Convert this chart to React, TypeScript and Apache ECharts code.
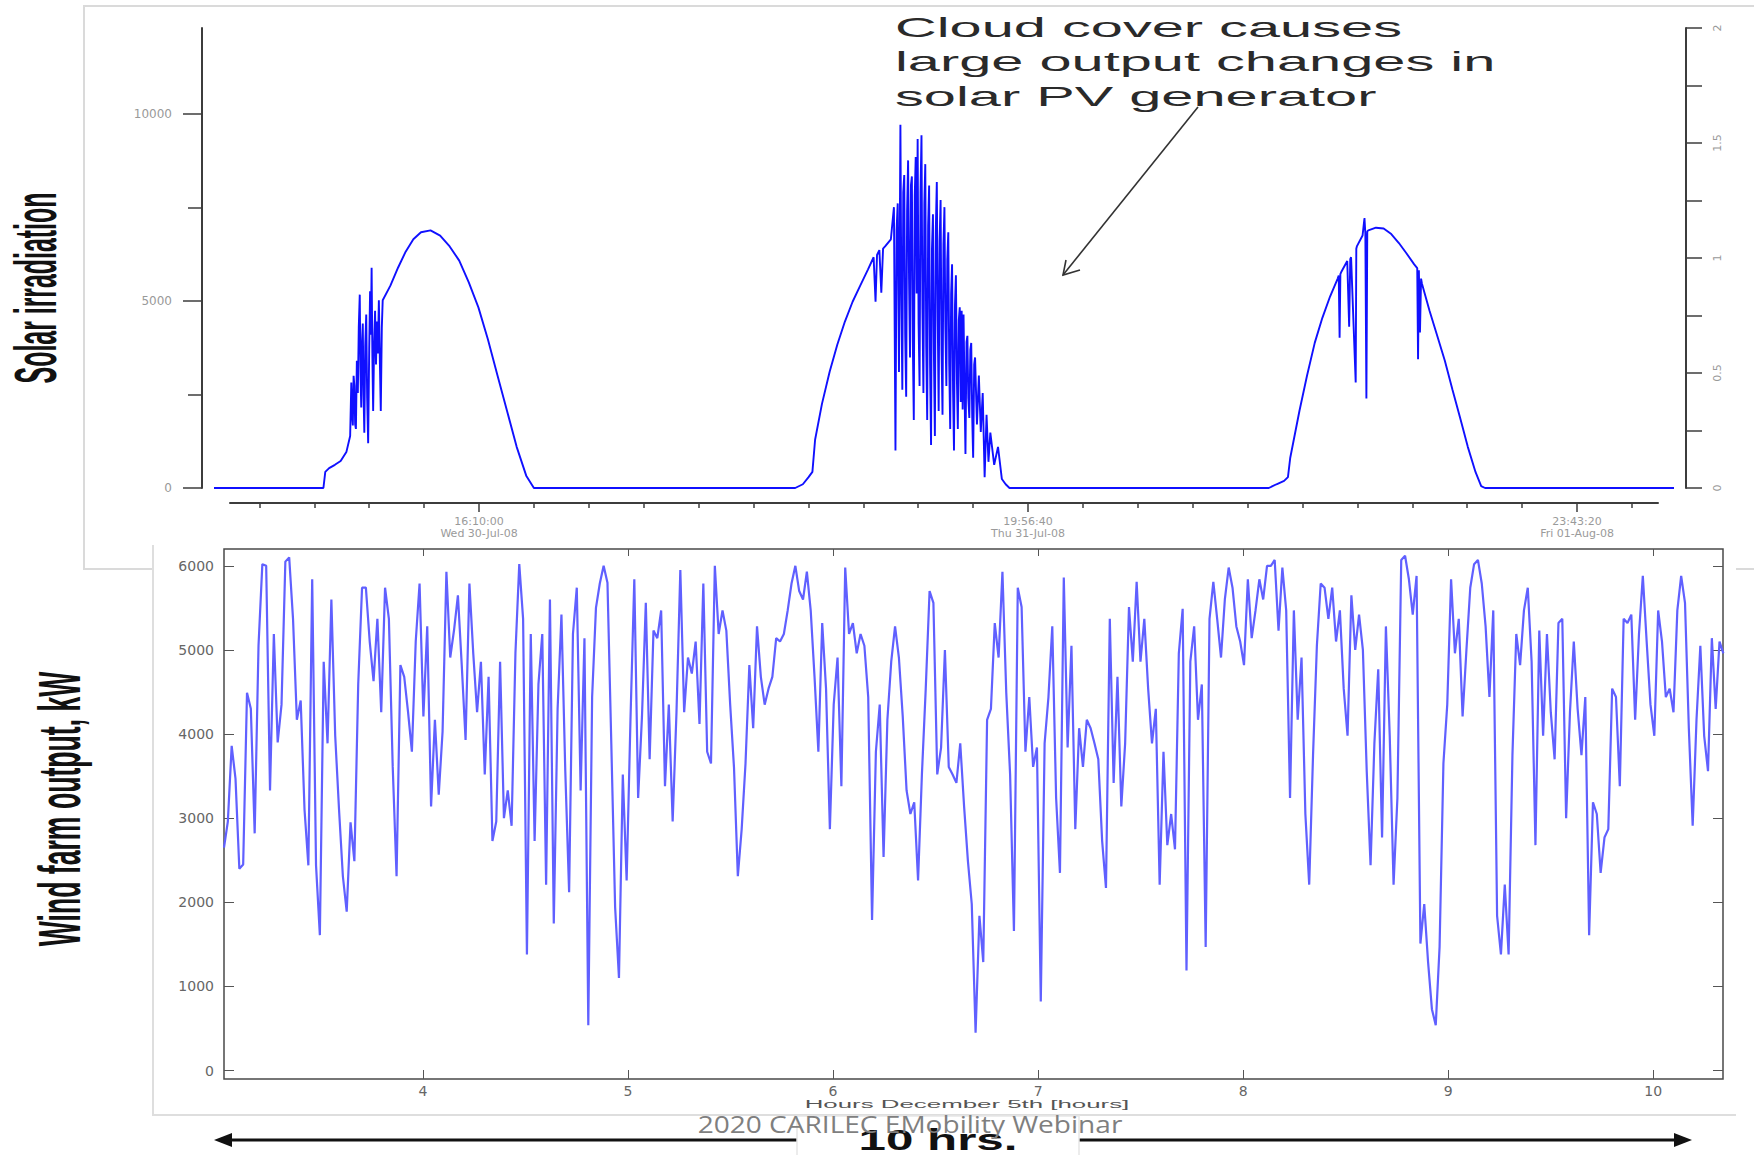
import React, { useEffect, useRef } from 'react';
import * as echarts from 'echarts';

// ================= TOP PANEL : solar irradiation =================
// x = kiloseconds after 30-Jul-08 16:10:00, y = irradiation
const SOLAR_X_START = -48.27;
const SOLAR_X_END = 217.67;
const SOLAR_Y_MAX = 12300;

const solarDay1: [number, number][] = [
  [-28.34, 0], [-28.0, 430], [-27.3, 530], [-26.25, 620], [-25.2, 720], [-24.16, 960], [-23.47, 1390],
  [-23.26, 2820], [-23.1, 1900], [-22.98, 1670], [-22.84, 3000], [-22.7, 2730], [-22.56, 1700],
  [-22.42, 1580], [-22.25, 3400], [-22.07, 2540], [-21.9, 4300], [-21.72, 5170], [-21.58, 3000],
  [-21.45, 2150], [-21.3, 3900], [-21.17, 4400], [-21.03, 2500], [-20.89, 1480], [-20.72, 3800],
  [-20.54, 4640], [-20.37, 2400], [-20.19, 1200], [-20.0, 3700], [-19.84, 5260], [-19.7, 4100],
  [-19.56, 5890], [-19.42, 3500], [-19.28, 2060], [-19.1, 3900], [-18.93, 4740], [-18.76, 3300],
  [-18.59, 4450], [-18.42, 3600], [-18.24, 5020], [-18.06, 3400], [-17.89, 2060], [-17.7, 4300],
  [-17.54, 5020], [-16.14, 5410], [-14.75, 5890], [-13.36, 6320], [-11.96, 6650], [-10.57, 6840],
  [-8.83, 6890], [-7.08, 6750], [-5.34, 6460], [-3.6, 6080], [-1.86, 5500], [-0.11, 4830], [1.63, 3970],
  [3.37, 3010], [5.11, 2060], [6.86, 1100], [8.6, 330], [10.0, 0],
];

const solarDay2: [number, number][] = [
  [57.59, 0], [58.99, 100], [60.03, 290], [60.73, 430], [61.22, 1290], [62.47, 2250], [63.87, 3110],
  [65.26, 3830], [66.65, 4450], [68.05, 4980], [69.44, 5410], [70.84, 5840], [71.88, 6170], [72.23, 4980],
  [72.5, 6230], [72.93, 6360], [73.28, 5220], [73.6, 6400], [73.97, 6460], [75.02, 6650], [75.58, 7510],
  [75.72, 4200], [75.86, 1000], [76.06, 6900], [76.27, 7610], [76.5, 3100], [76.76, 9710], [76.93, 5200],
  [77.11, 2630], [77.28, 7900], [77.46, 8370], [77.63, 4100], [77.81, 2440], [77.98, 7400], [78.16, 8760],
  [78.33, 5600], [78.51, 3490], [78.68, 8100], [78.85, 8330], [79.02, 3900], [79.2, 1820], [79.37, 7800],
  [79.55, 8850], [79.72, 5200], [79.9, 9330], [80.07, 4400], [80.25, 2730], [80.42, 7900], [80.6, 9430],
  [80.77, 4800], [80.95, 2540], [81.12, 7600], [81.29, 8660], [81.46, 3800], [81.64, 1820], [81.81, 7000],
  [81.99, 8090], [82.16, 3300], [82.34, 1150], [82.51, 6400], [82.69, 7320], [82.86, 3600], [83.04, 1390],
  [83.21, 6900], [83.39, 8180], [83.56, 4500], [83.73, 2060], [83.9, 6600], [84.08, 7700], [84.25, 3700],
  [84.43, 1960], [84.6, 6500], [84.78, 7510], [84.95, 4300], [85.13, 2730], [85.3, 6100], [85.48, 6840],
  [85.65, 3300], [85.83, 1580], [86.0, 5200], [86.17, 5980], [86.35, 2600], [86.52, 1000], [86.7, 4900],
  [86.87, 5690], [87.05, 2900], [87.22, 1580], [87.4, 4500], [87.57, 4830], [87.75, 2300], [87.92, 4740],
  [88.1, 2100], [88.26, 4640], [88.44, 2600], [88.61, 910], [88.8, 3900], [88.96, 4070], [89.13, 2400],
  [89.31, 1870], [89.5, 3700], [89.66, 3880], [89.84, 1900], [90.01, 810], [90.2, 3300], [90.36, 3490],
  [90.7, 1700], [91.05, 3010], [91.4, 1500], [91.75, 2540], [92.1, 290], [92.45, 1960], [92.8, 700],
  [93.14, 1480], [93.84, 620], [94.54, 1100], [95.24, 240], [95.93, 100], [96.63, 0],
];

const solarDay3: [number, number][] = [
  [143.86, 0], [145.26, 100], [146.65, 190], [147.35, 290], [147.77, 810], [149.44, 2060], [150.83, 3010],
  [152.23, 3880], [153.62, 4550], [155.02, 5120], [156.41, 5600], [156.6, 5680], [156.76, 4020],
  [156.9, 5720], [157.11, 5790], [158.15, 6070], [158.5, 4310], [158.7, 6120], [158.85, 6170],
  [159.69, 2820], [159.8, 6400], [159.9, 6460], [160.94, 6750], [161.29, 7220], [161.45, 6800],
  [161.64, 2390], [161.8, 6860], [161.99, 6890], [163.38, 6960], [164.78, 6940], [166.17, 6790],
  [167.56, 6550], [168.96, 6270], [170.35, 5980], [170.9, 5880], [171.05, 3440], [171.2, 5820],
  [171.4, 4160], [171.6, 5600], [171.75, 5470], [173.14, 4740], [174.54, 4070], [175.93, 3400],
  [177.32, 2630], [178.72, 1870], [180.11, 1100], [181.51, 430], [182.55, 50], [183.25, 0],
];

const solarLeftMajorTicks = [0, 5000, 10000];
const solarLeftMinorTicks = [2500, 7500];
const solarRightTicks = [0, 0.25, 0.5, 0.75, 1, 1.25, 1.5, 1.75, 2];
const solarRightLabels = [0, 0.5, 1, 1.5, 2];

const TIME_AXIS_MIN = -45.36;
const TIME_AXIS_MAX = 214.75;
const timeMinorTicks = [-40, -30, -20, -10, 10, 20, 30, 40, 50, 60, 70, 80, 90, 110, 120, 130, 140, 150, 160, 170, 180, 190, 210];
const timeMajorTicks = [0, 100, 200];
const timeMajorLabels = ['16:10:00\nWed 30-Jul-08', '19:56:40\nThu 31-Jul-08', '23:43:20\nFri 01-Aug-08'];

// ================= BOTTOM PANEL : wind farm output =================
const WIND_X_MIN = 3.03;
const WIND_X_MAX = 10.34;
const WIND_START_H = 3.03;
const WIND_STEP_H = 0.0187; // hours between readings
const windOutput = [
  2650, 2960, 3860, 3470, 2400, 2450, 4490, 4300, 2820, 5050,
  6020, 6000, 3330, 5190, 3900, 4350, 6050, 6100, 5370, 4170,
  4400, 3100, 2440, 5840, 2440, 1610, 4860, 3890, 5600, 3980,
  3100, 2310, 1890, 2950, 2490, 4590, 5740, 5740, 5100, 4630,
  5370, 4260, 5740, 5370, 3610, 2310, 4820, 4680, 4260, 3790,
  5100, 5790, 4210, 5280, 3140, 4170, 3280, 4030, 5930, 4910,
  5240, 5650, 4820, 3930, 5790, 4960, 4260, 4860, 3520, 4680,
  2730, 2960, 4860, 3000, 3330, 2910, 4960, 6020, 5370, 1380,
  5190, 2730, 4590, 5190, 2210, 5600, 1750, 4300, 5420, 3560,
  2120, 5190, 5740, 3330, 5140, 540, 4440, 5500, 5790,
  6000, 5800, 3890, 1940, 1100, 3520, 2260, 4170, 5840, 3240,
  4210, 5560, 3700, 5230, 5140, 5470, 3380, 4350, 2960, 4260,
  5950, 4260, 4910, 4720, 5100, 4120, 5790, 3790, 3650, 6000,
  5190, 5470, 5230, 4350, 3600, 2310, 2870, 3650, 4820, 4070,
  5280, 4680, 4350, 4540, 4680, 5140, 5100, 5190, 5470, 5790,
  6000, 5700, 5600, 5930, 5470, 4680, 3790, 5320, 4540, 2870,
  4350, 4910, 3380, 5980, 5190, 5320, 4960, 5190, 5050, 4440,
  1790, 3790, 4350, 2540, 4170, 4860, 5280, 4910, 4210, 3330,
  3050, 3190, 2260, 3520, 4540, 5700, 5560, 3520, 3840, 5000,
  3610, 3520, 3420, 3890, 3140, 2490, 1980, 450, 1840, 1290,
  4170, 4300, 5320, 4910, 5930, 4490, 3520, 1660, 5740, 5510,
  3790, 4440, 3610, 3840, 820, 3890, 4440, 5280, 3240, 2350,
  5860, 3840, 5050, 2870, 4070, 3610, 4170, 4070, 3890, 3700,
  2730, 2170, 5370, 3420, 4680, 3140, 3890, 5510, 4860, 5810,
  4860, 5370, 4540, 3890,
  4300, 2210, 3790, 2680, 3050, 2630, 4960, 5490, 1190, 4860,
  5280, 4170, 4590, 1470, 5370, 5810, 5370, 4910, 5600, 5980,
  5740, 5280, 5100, 4820, 5840, 5140, 5470, 5840, 5600, 6000,
  6000, 6070, 5230, 5980, 5470, 3240, 5470, 4170, 4910, 3050,
  2210, 3750, 5050, 5790, 5740, 5370, 5740, 5100, 5470, 4540,
  3980, 5650, 5000, 5420, 5000, 3560, 2440, 3890, 4770, 2770,
  5280, 3980, 2210, 3240, 6070, 6120, 5840, 5420, 5880, 1510,
  1980, 1290, 730, 540, 1470, 3650, 4350, 5840, 4960, 5370,
  4210, 5000, 5740, 6020, 6070, 5790, 5280, 4440, 5470, 1840,
  1380, 2210, 1380, 3750, 5190, 4820, 5470, 5740, 4860, 2680,
  5230, 3980, 5190, 4260, 3700, 5320, 5370, 3000, 4260, 5100,
  4300, 3750, 4440, 1610, 3190, 3050, 2350, 2770, 2870, 4540,
  4440, 3380, 5370, 5320, 5420, 4170, 5190, 5880, 5100, 4350,
  3980, 5470, 5100, 4440, 4540, 4260, 5470, 5880, 5560, 4070,
  2910, 4170, 5050, 3980, 3560, 5140, 4300, 5100, 4960,
];
const WIND_Y_MIN = -100;
const WIND_Y_MAX = 6200;
const windXTicks = [4, 5, 6, 7, 8, 9, 10];
const windYTicks = [0, 1000, 2000, 3000, 4000, 5000, 6000];

const AXIS_FONT = "'DejaVu Sans', sans-serif";
const SANS = "'Liberation Sans', Arial, sans-serif";
const plain = (v: number) => String(v);

function buildOption(): any {
  const solarSeries = [[SOLAR_X_START, 0], ...solarDay1, ...solarDay2, ...solarDay3, [SOLAR_X_END, 0]];
  const windSeries = windOutput.map((v, i) => [WIND_START_H + i * WIND_STEP_H, v]);
  const axisDark = '#3c3c3c';

  const graphics: any[] = [
    // slide image frames
    { type: 'polyline', z: -10, shape: { points: [[1760, 6], [84, 6], [84, 569], [1760, 569]] }, style: { stroke: '#dadada', lineWidth: 2, fill: null } },
    { type: 'rect', z: -9, shape: { x: 153, y: 545, width: 1583, height: 570 }, style: { fill: '#ffffff' } },
    { type: 'polyline', z: -8, shape: { points: [[153, 545], [153, 1115], [1736, 1115]] }, style: { stroke: '#dedede', lineWidth: 2, fill: null } },
    // annotation
    { type: 'text', x: 895, y: 28, scaleX: 2.1, z: 50, style: { text: 'Cloud cover causes', fontSize: 27.5, fontFamily: SANS, fill: '#2a2a2a', align: 'left', verticalAlign: 'middle' } },
    { type: 'text', x: 895, y: 62, scaleX: 2.1, z: 50, style: { text: 'large output changes in', fontSize: 27.5, fontFamily: SANS, fill: '#2a2a2a', align: 'left', verticalAlign: 'middle' } },
    { type: 'text', x: 895, y: 97, scaleX: 2.1, z: 50, style: { text: 'solar PV generator', fontSize: 27.5, fontFamily: SANS, fill: '#2a2a2a', align: 'left', verticalAlign: 'middle' } },
    { type: 'line', z: 50, shape: { x1: 1198, y1: 107, x2: 1063, y2: 275 }, style: { stroke: '#333', lineWidth: 1.6 } },
    { type: 'polyline', z: 50, shape: { points: [[1080, 270], [1063, 275], [1066, 260]] }, style: { stroke: '#333', lineWidth: 1.6, fill: null } },
    // axis titles
    { type: 'text', x: 36, y: 288, rotation: Math.PI / 2, scaleX: 0.83, scaleY: 1.95, z: 50, style: { text: 'Solar irradiation', fontSize: 30, fontWeight: 'bold', fontFamily: SANS, fill: '#111', align: 'center', verticalAlign: 'middle' } },
    { type: 'text', x: 60, y: 809, rotation: Math.PI / 2, scaleX: 0.887, scaleY: 1.95, z: 50, style: { text: 'Wind farm output, kW', fontSize: 30, fontWeight: 'bold', fontFamily: SANS, fill: '#111', align: 'center', verticalAlign: 'middle' } },
    { type: 'text', x: 967, y: 1104, scaleX: 2.35, z: 50, style: { text: 'Hours December 5th [hours]', fontSize: 11, fontFamily: SANS, fill: '#555', align: 'center', verticalAlign: 'middle' } },
    // 10 hrs arrow
    { type: 'line', z: 60, shape: { x1: 228, y1: 1140, x2: 1678, y2: 1140 }, style: { stroke: '#111', lineWidth: 3 } },
    { type: 'polygon', z: 60, shape: { points: [[214, 1140], [232, 1133], [232, 1147]] }, style: { fill: '#111' } },
    { type: 'polygon', z: 60, shape: { points: [[1692, 1140], [1674, 1133], [1674, 1147]] }, style: { fill: '#111' } },
    { type: 'rect', z: 61, shape: { x: 797, y: 1116, width: 282, height: 60 }, style: { fill: '#fff', stroke: '#e6e6e6', lineWidth: 1.5 } },
    { type: 'text', x: 938, y: 1154, scaleX: 1.7, z: 62, style: { text: '10 hrs.', fontSize: 29, fontWeight: 'bold', fontFamily: SANS, fill: '#111', align: 'center', verticalAlign: 'bottom' } },
    { type: 'text', x: 910, y: 1124, scaleX: 1.22, z: 70, style: { text: '2020 CARILEC EMobility Webinar', fontSize: 23, fontFamily: "'Open Sans', sans-serif", fill: '#7f7f7f', align: 'center', verticalAlign: 'middle' } },
  ];

  return {
    animation: false,
    backgroundColor: '#ffffff',
    grid: [
      { left: 214, right: 80, top: 28, height: 460, show: false },
      { left: 230, right: 96, top: 28, height: 475, show: false },
      { left: 224, right: 31, top: 549, height: 530, show: true, borderColor: '#4a4a4a', borderWidth: 1.5, backgroundColor: 'transparent' },
    ],
    xAxis: [
      { gridIndex: 0, type: 'value', min: SOLAR_X_START, max: SOLAR_X_END, show: false, axisLine: { onZero: false } },
      {
        gridIndex: 1, type: 'value', min: TIME_AXIS_MIN, max: TIME_AXIS_MAX, position: 'bottom',
        axisLine: { show: true, onZero: false, lineStyle: { color: axisDark, width: 2 } },
        axisTick: { show: true, customValues: timeMinorTicks, length: 5, lineStyle: { color: axisDark, width: 1.5 } },
        axisLabel: { show: false }, splitLine: { show: false },
      },
      {
        gridIndex: 1, type: 'value', min: TIME_AXIS_MIN, max: TIME_AXIS_MAX, position: 'bottom',
        axisLine: { show: false, onZero: false },
        axisTick: { show: true, customValues: timeMajorTicks, length: 9, lineStyle: { color: axisDark, width: 1.5 } },
        axisLabel: {
          show: true, customValues: timeMajorTicks,
          formatter: (v: number) => { const k = timeMajorTicks.indexOf(Math.round(v)); return k >= 0 ? timeMajorLabels[k] : ''; },
          color: '#9a9a9a', fontSize: 11, lineHeight: 12, margin: 12, fontFamily: AXIS_FONT,
        },
        splitLine: { show: false },
      },
      {
        gridIndex: 2, type: 'value', min: WIND_X_MIN, max: WIND_X_MAX, position: 'bottom',
        axisLine: { show: false, onZero: false },
        axisTick: { show: true, inside: true, customValues: windXTicks, length: 9, lineStyle: { color: '#555' } },
        axisLabel: { show: true, customValues: windXTicks, formatter: plain, color: '#666', fontSize: 14, margin: 5, fontFamily: AXIS_FONT },
        splitLine: { show: false },
      },
      {
        gridIndex: 2, type: 'value', min: WIND_X_MIN, max: WIND_X_MAX, position: 'top',
        axisLine: { show: false, onZero: false },
        axisTick: { show: true, inside: true, customValues: windXTicks, length: 7, lineStyle: { color: '#555' } },
        axisLabel: { show: false }, splitLine: { show: false },
      },
    ],
    yAxis: [
      {
        gridIndex: 0, type: 'value', min: 0, max: SOLAR_Y_MAX, position: 'left', offset: 12,
        axisLine: { show: true, onZero: false, lineStyle: { color: axisDark, width: 2 } },
        axisTick: { show: true, customValues: solarLeftMajorTicks, length: 19, lineStyle: { color: axisDark, width: 1.5 } },
        axisLabel: { show: true, customValues: solarLeftMajorTicks, formatter: plain, margin: 30, color: '#999', fontSize: 12, fontFamily: AXIS_FONT },
        splitLine: { show: false },
      },
      {
        gridIndex: 0, type: 'value', min: 0, max: SOLAR_Y_MAX, position: 'left', offset: 12,
        axisLine: { show: false, onZero: false },
        axisTick: { show: true, customValues: solarLeftMinorTicks, length: 14, lineStyle: { color: axisDark, width: 1.5 } },
        axisLabel: { show: false }, splitLine: { show: false },
      },
      {
        gridIndex: 0, type: 'value', min: 0, max: 2, position: 'right', offset: 12,
        axisLine: { show: true, onZero: false, lineStyle: { color: axisDark, width: 2 } },
        axisTick: { show: true, customValues: solarRightTicks, length: 16, lineStyle: { color: axisDark, width: 1.5 } },
        axisLabel: { show: true, customValues: solarRightLabels, formatter: plain, rotate: 90, margin: 26, color: '#999', fontSize: 11, fontFamily: AXIS_FONT },
        splitLine: { show: false },
      },
      { gridIndex: 1, type: 'value', min: 0, max: 1, show: false, axisLine: { onZero: false } },
      {
        gridIndex: 2, type: 'value', min: WIND_Y_MIN, max: WIND_Y_MAX, position: 'left',
        axisLine: { show: false, onZero: false },
        axisTick: { show: true, inside: true, customValues: windYTicks, length: 10, lineStyle: { color: '#555' } },
        axisLabel: { show: true, customValues: windYTicks, formatter: plain, margin: 10, color: '#666', fontSize: 14, fontFamily: AXIS_FONT },
        splitLine: { show: false },
      },
      {
        gridIndex: 2, type: 'value', min: WIND_Y_MIN, max: WIND_Y_MAX, position: 'right',
        axisLine: { show: false, onZero: false },
        axisTick: { show: true, inside: true, customValues: windYTicks, length: 10, lineStyle: { color: '#555' } },
        axisLabel: { show: false }, splitLine: { show: false },
      },
    ],
    series: [
      {
        type: 'line', xAxisIndex: 0, yAxisIndex: 0, data: solarSeries, symbol: 'none',
        lineStyle: { color: '#1010ff', width: 1.9 }, z: 3,
      },
      {
        type: 'line', xAxisIndex: 3, yAxisIndex: 4, data: windSeries, symbol: 'none',
        lineStyle: { color: '#6060ff', width: 2.2 }, z: 3,
      },
    ],
    graphic: { elements: graphics },
  };
}

export default function App() {
  const ref = useRef<HTMLDivElement>(null);
  useEffect(() => {
    if (!ref.current) return;
    const chart = echarts.init(ref.current, undefined, { renderer: 'svg' });
    chart.setOption(buildOption());
    return () => chart.dispose();
  }, []);
  return (
    <div
      ref={ref}
      style={{ position: 'fixed', left: 0, top: 0, width: 1754, height: 1155, background: '#ffffff' }}
    />
  );
}
